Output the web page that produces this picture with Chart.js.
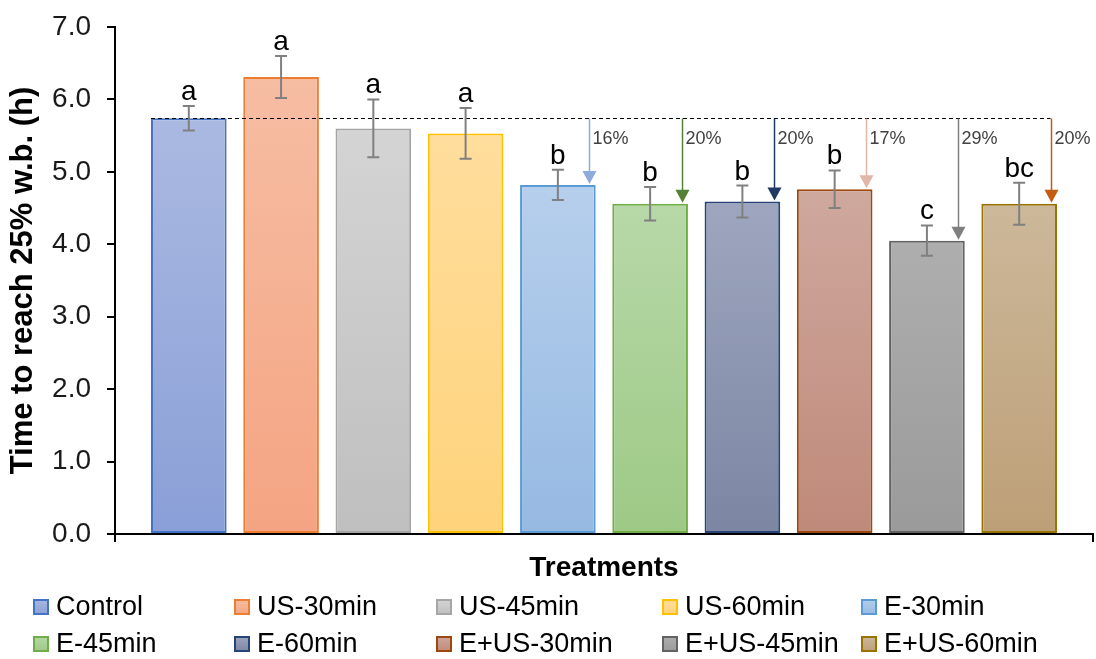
<!DOCTYPE html>
<html>
<head>
<meta charset="utf-8">
<script src="https://cdn.jsdelivr.net/npm/chart.js@4.4.1/dist/chart.umd.min.js"></script>
<style>
html,body{margin:0;padding:0;background:#fff;}
#wrap{width:1096px;height:659px;position:relative;}
</style>
</head>
<body>
<div id="wrap"><canvas id="c" width="1096" height="659"></canvas></div>
<script>
// ---- data ----
const categories = ['Control','US-30min','US-45min','US-60min','E-30min','E-45min','E-60min','E+US-30min','E+US-45min','E+US-60min'];
const means  = [5.74, 6.31, 5.60, 5.53, 4.82, 4.56, 4.59, 4.76, 4.05, 4.56];
const errors = [0.17, 0.29, 0.40, 0.35, 0.21, 0.23, 0.22, 0.26, 0.21, 0.29];
const letters = ['a','a','a','a','b','b','b','b','c','bc'];
const referenceValue = 5.75;
const arrowIndex = [4, 5, 6, 7, 8, 9];
const arrowLabels = ['16%','20%','20%','17%','29%','20%'];
const yTickMin = 0, yTickMax = 7, yTickStep = 1;
const yTitle = 'Time to reach 25% w.b. (h)';
const xTitle = 'Treatments';

// ---- styles ----
const fillTop    = ['#AAB9E1','#F6BDA3','#D4D4D4','#FFDD9C','#B6CFEC','#B7D8A8','#9EA6BF','#CFA89E','#AEAEAE','#CCB89A'];
const fillBottom = ['#8A9FD7','#F4A482','#BFBFBF','#FED37B','#96B9E2','#9DC985','#7C85A2','#BF897A','#9A9A9A','#BD9F77'];
const borders    = ['#4472C4','#ED7D31','#A5A5A5','#FFC000','#5B9BD5','#70AD47','#264478','#9E480E','#636363','#997300'];
const arrowColors = ['#8FAADC','#548235','#203864','#E2B7A8','#7F7F7F','#C55A11'];
const FONT = '"Liberation Sans", Arial, sans-serif';
const ARROW_OFFSET = 0.34;

function grad(ctx, y0, y1, i){
  const g = ctx.createLinearGradient(0, y0, 0, y1);
  g.addColorStop(0, fillTop[i]);
  g.addColorStop(1, fillBottom[i]);
  return g;
}

const overlay = {
  id: 'overlay',
  afterDatasetsDraw(chart){
    const {ctx, scales:{x, y}} = chart;
    const meta = chart.getDatasetMeta(0);
    ctx.save();
    // dashed reference line
    const ry = Math.round(y.getPixelForValue(referenceValue)) + 0.5;
    const b0 = meta.data[0];
    const xStart = b0.x - b0.width/2;
    const xEnd = x.getPixelForValue(arrowIndex[arrowIndex.length-1] + ARROW_OFFSET);
    ctx.strokeStyle = '#000'; ctx.lineWidth = 1; ctx.setLineDash([4,3]);
    ctx.beginPath(); ctx.moveTo(xStart, ry); ctx.lineTo(xEnd, ry); ctx.stroke();
    ctx.setLineDash([]);
    // error bars + letters
    means.forEach((m, i) => {
      const cx = meta.data[i].x;
      const yt = y.getPixelForValue(m + errors[i]);
      const yb = y.getPixelForValue(m - errors[i]);
      ctx.strokeStyle = '#808080'; ctx.lineWidth = 2;
      ctx.beginPath();
      ctx.moveTo(cx, yt); ctx.lineTo(cx, yb);
      ctx.moveTo(cx-6, yt); ctx.lineTo(cx+6, yt);
      ctx.moveTo(cx-6, yb); ctx.lineTo(cx+6, yb);
      ctx.stroke();
      ctx.fillStyle = '#000';
      ctx.font = '28px ' + FONT;
      ctx.textAlign = 'center'; ctx.textBaseline = 'alphabetic';
      ctx.fillText(letters[i], cx, yt - 6);
    });
    // arrows
    arrowIndex.forEach((idx, k) => {
      const ax = Math.round(x.getPixelForValue(idx + ARROW_OFFSET)) + 0.5;
      const tip = y.getPixelForValue(means[idx]) - 1;
      ctx.strokeStyle = arrowColors[k]; ctx.fillStyle = arrowColors[k]; ctx.lineWidth = 1.5;
      ctx.beginPath(); ctx.moveTo(ax, ry); ctx.lineTo(ax, tip - 12); ctx.stroke();
      ctx.beginPath(); ctx.moveTo(ax - 7, tip - 13); ctx.lineTo(ax + 7, tip - 13); ctx.lineTo(ax, tip); ctx.closePath(); ctx.fill();
      ctx.fillStyle = '#404040';
      ctx.font = '18px ' + FONT;
      ctx.textAlign = 'left'; ctx.textBaseline = 'middle';
      ctx.fillText(arrowLabels[k], ax + 3, ry + 21);
    });
    ctx.restore();
  },
  afterDraw(chart){
    const ctx = chart.ctx;
    const colX = [33, 234, 436, 662, 861];
    const rowY = [607, 644];
    ctx.save();
    categories.forEach((name, i) => {
      const bx = colX[i % 5], cy = rowY[Math.floor(i / 5)];
      ctx.fillStyle = grad(ctx, cy - 8, cy + 8, i);
      ctx.fillRect(bx, cy - 8, 16, 16);
      ctx.strokeStyle = borders[i]; ctx.lineWidth = 2;
      ctx.strokeRect(bx + 1, cy - 7, 14, 14);
      ctx.fillStyle = '#000';
      ctx.font = '27px ' + FONT;
      ctx.textAlign = 'left'; ctx.textBaseline = 'middle';
      ctx.fillText(name, bx + 23, cy + 1);
    });
    ctx.restore();
  }
};

const ctx = document.getElementById('c').getContext('2d');
new Chart(ctx, {
  type: 'bar',
  data: {
    datasets: [{
      label: 'Time',
      data: means.map((v, i) => ({x: i, y: v})),
      backgroundColor(c){
        const ch = c.chart;
        if (!ch.chartArea || c.dataIndex === undefined) return fillBottom[c.dataIndex || 0];
        const y = ch.scales.y;
        return grad(ch.ctx, y.getPixelForValue(means[c.dataIndex]), y.getPixelForValue(0), c.dataIndex);
      },
      borderColor: borders,
      borderWidth: 2,
      borderSkipped: false,
      barPercentage: 0.82,
      categoryPercentage: 1
    }]
  },
  options: {
    responsive: false,
    animation: false,
    devicePixelRatio: 1,
    layout: {padding: {top: 27, right: 3, bottom: 74, left: 0}},
    plugins: {legend: {display: false}, tooltip: {enabled: false}},
    scales: {
      x: {
        type: 'linear', min: -0.8, max: 9.8, offset: false,
        grid: {display: true, drawOnChartArea: false, drawTicks: true, tickLength: 8, color: '#000', lineWidth: 2, offset: false},
        border: {display: true, color: '#000', width: 2},
        ticks: {display: false},
        afterBuildTicks(s){ s.ticks = [{value: -0.8}, {value: 9.8}]; },
        afterFit(s){ s.height = 51; s.paddingLeft = 0; s.paddingRight = 0; },
        title: {display: true, text: xTitle, color: '#000', font: {family: FONT, size: 28, weight: 'bold'}, padding: {top: 0, bottom: 0}}
      },
      y: {
        min: yTickMin, max: yTickMax,
        ticks: {stepSize: yTickStep, color: '#1a1a1a', font: {family: FONT, size: 28}, padding: 16,
                callback: v => Number(v).toFixed(1)},
        grid: {display: true, drawOnChartArea: false, drawTicks: true, tickLength: 8, color: '#000', lineWidth: 2},
        border: {display: true, color: '#000', width: 2},
        afterFit(s){ s.width = 115; s.paddingTop = 0; s.paddingBottom = 0; },
        title: {display: true, text: yTitle, color: '#000', font: {family: FONT, size: 31, weight: 'bold'}, padding: {top: 5, bottom: 0}}
      }
    }
  },
  plugins: [overlay]
});
</script>
</body>
</html>
